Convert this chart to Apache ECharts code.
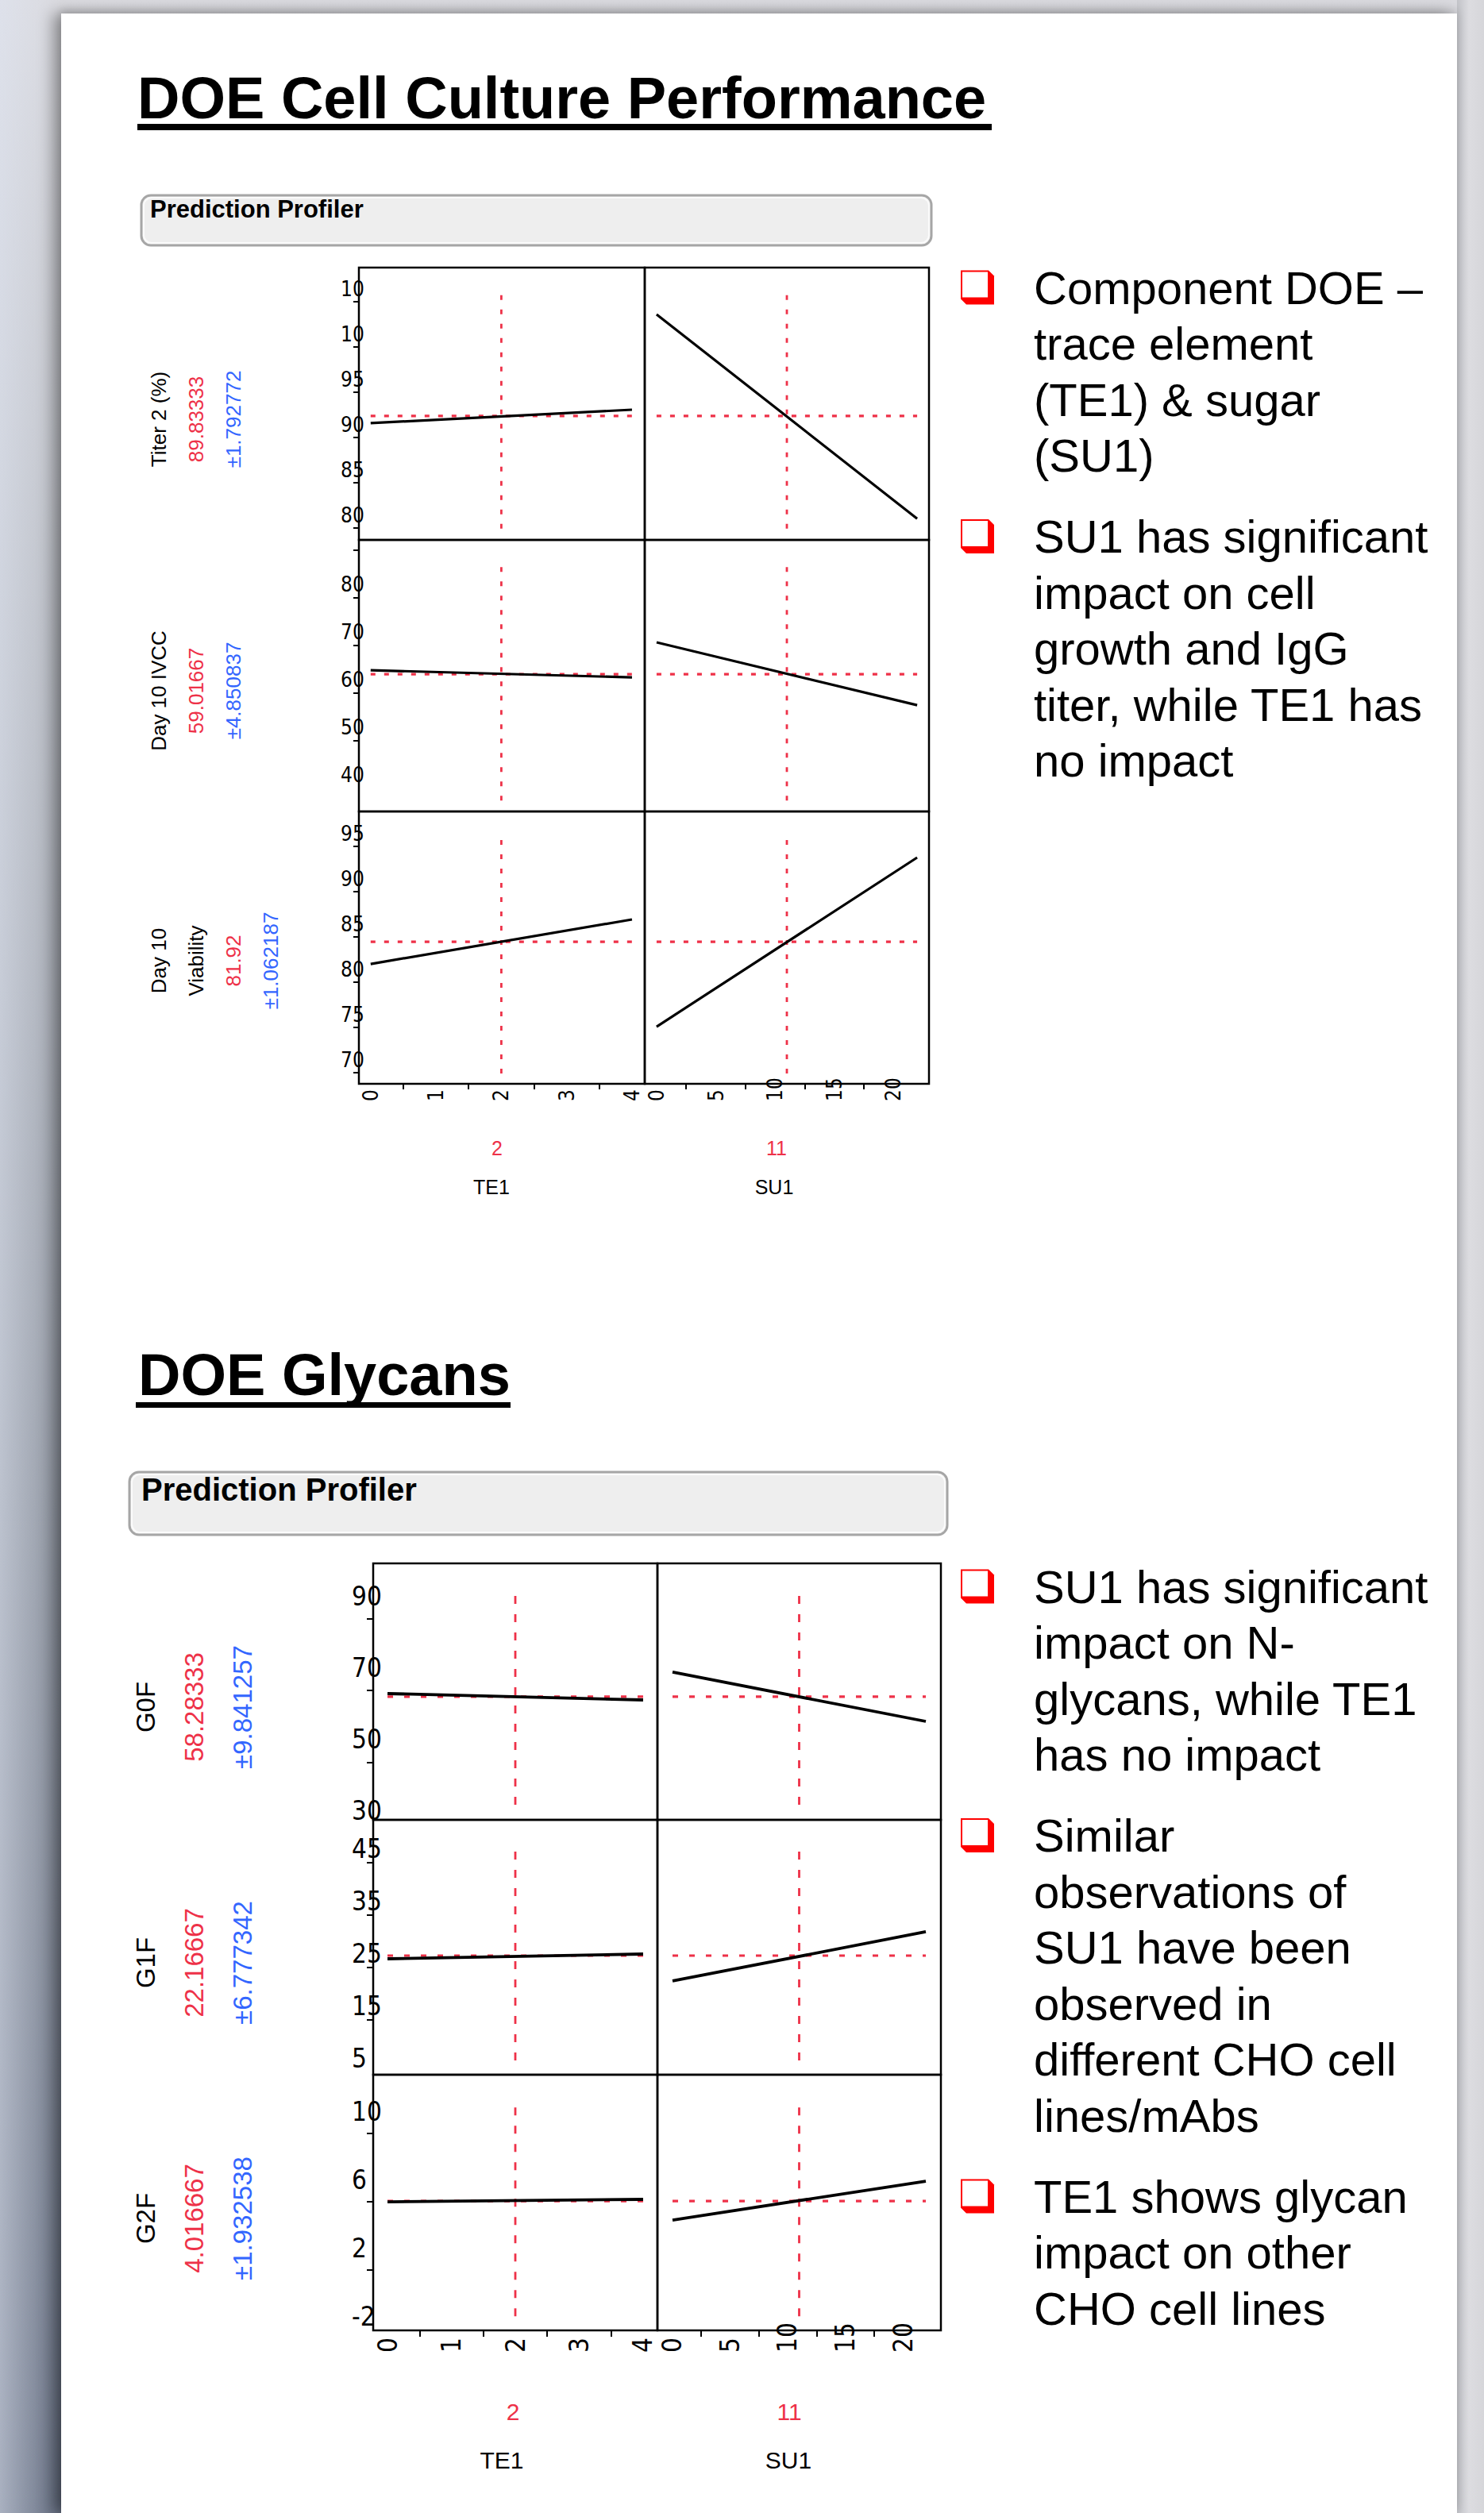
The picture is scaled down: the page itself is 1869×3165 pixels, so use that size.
<!DOCTYPE html>
<html>
<head>
<meta charset="utf-8">
<title>DOE Cell Culture Performance</title>
<script src="https://cdn.jsdelivr.net/npm/echarts@6.0.0/dist/echarts.min.js"></script>
<style>
  html, body { margin: 0; padding: 0; }
  body {
    width: 1869px; height: 3165px; position: relative; overflow: hidden;
    background: linear-gradient(to bottom, #dadadf 0%, #b9bcc3 25%, #8f95a0 60%, #646d80 100%);
  }
  #leftGlow {
    position: absolute; left: 0; top: 0; width: 77px; height: 3165px;
    background: linear-gradient(to right, rgba(225,231,244,0.55), rgba(225,231,244,0));
  }
  #rightStrip {
    position: absolute; left: 1835px; top: 0; width: 34px; height: 3165px;
    background: linear-gradient(to right, #c2c3c8, #dcdce0 45%, #d6d6da);
  }
  #card {
    position: absolute; left: 77px; top: 17px; width: 1758px; height: 3148px; background: #fff;
    box-shadow: -10px 0 18px rgba(0,0,0,0.35), 0 -4px 10px rgba(0,0,0,0.12);
  }
  #chart { position: absolute; left: 0; top: 0; width: 1869px; height: 3165px; }
</style>
</head>
<body>
<div id="leftGlow"></div>
<div id="rightStrip"></div>
<div id="card"></div>
<div id="chart"></div>
<script>
// factors
const factorNames = ['TE1', 'SU1'];
const factorLow = [0, 0];
const factorHigh = [4, 22];
const factorSetting = [2, 11];
const te1Ticks = [0, 1, 2, 3, 4];
const te1MinorTicks = [0.5, 1.5, 2.5, 3.5];
const su1Ticks = [0, 5, 10, 15, 20];
const su1MinorTicks = [2.5, 7.5, 12.5, 17.5];

// cell culture profiler
const cultureNames = [['Titer 2 (%)'], ['Day 10 IVCC'], ['Day 10', 'Viability']];
const culturePred = [89.83333, 59.01667, 81.92];
const cultureErr = [1.792772, 4.850837, 1.062187];
const cultureTE1 = [[89.05, 90.53], [59.85, 58.35], [79.46, 84.38]];
const cultureSU1 = [[101.06, 78.5], [65.69, 52.52], [72.53, 91.22]];
const cultureYTicks = [[80, 85, 90, 95, 100, 105], [40, 50, 60, 70, 80], [70, 75, 80, 85, 90, 95]];
const cultureYMinor = [[77.5, 82.5, 87.5, 92.5, 97.5, 102.5], [45, 55, 65, 75, 85], [67.5, 72.5, 77.5, 82.5, 87.5, 92.5]];
const cultureYRange = [[76.15, 106.23], [30.2, 87.2], [66.22, 96.31]];
const cultureRefSpan = [[77.4, 103.95], [32.5, 82.7], [67.36, 93.94]];

// glycan profiler
const glycanNames = [['G0F'], ['G1F'], ['G2F']];
const glycanPred = [58.28333, 22.16667, 4.016667];
const glycanErr = [9.841257, 6.777342, 1.932538];
const glycanTE1 = [[59.17, 57.39], [21.56, 22.47], [3.97, 4.11]];
const glycanSU1 = [[65.17, 51.39], [17.32, 26.72], [2.9, 5.18]];
const glycanYTicks = [[30, 50, 70, 90], [5, 15, 25, 35, 45], [-2, 2, 6, 10]];
const glycanYMinor = [[40, 60, 80], [10, 20, 30, 40], [0, 4, 8]];
const glycanYRange = [[23.84, 95.6], [-0.56, 48.07], [-3.56, 11.41]];
const glycanRefSpan = [[28.06, 88.28], [2.17, 43.38], [-2.73, 9.88]];

// slide text
const cultureNotes = [
  ['Component DOE \u2013', 'trace element', '(TE1) & sugar', '(SU1)'],
  ['SU1 has significant', 'impact on cell', 'growth and IgG', 'titer, while TE1 has', 'no impact']
];
const glycanNotes = [
  ['SU1 has significant', 'impact on N-', 'glycans, while TE1', 'has no impact'],
  ['Similar', 'observations of', 'SU1 have been', 'observed in', 'different CHO cell', 'lines/mAbs'],
  ['TE1 shows glycan', 'impact on other', 'CHO cell lines']
];

const RED = '#ee3148';
const BLUE = '#3366ff';
const SANS = '"Liberation Sans", Arial, Helvetica, sans-serif';
const NARROW = '"Liberation Sans Narrow", "Arial Narrow", "DejaVu Sans Condensed", "Liberation Sans", sans-serif';

const profilers = [
  {
    names: cultureNames, pred: culturePred, err: cultureErr, te1: cultureTE1, su1: cultureSU1,
    yTicks: cultureYTicks, yMinor: cultureYMinor, yRange: cultureYRange, refSpan: cultureRefSpan,
    colLeft: [452, 812], colWidth: [360, 358], rowTop: [337, 680, 1022], rowHeight: [343, 342, 343],
    xRange: [[-0.18, 4.195], [-1, 23]],
    axisFont: 26, yLabelMargin: 23, xLabelMargin: 22, xLabelShift: 14, tickLen: 7,
    labelFont: 26, labelX: 200, labelStep: 47, labelY: [528, 870, 1210],
    footFont: 25, settingX: [626, 978], settingY: 1446, nameX: [619, 975], nameY: 1495,
    hDash: [6, 11], vDash: [6, 12], lineWidth: 3.2,
    header: { x: 178, y: 246, w: 995, h: 63, font: 31, tx: 189, ty: 263 }
  },
  {
    names: glycanNames, pred: glycanPred, err: glycanErr, te1: glycanTE1, su1: glycanSU1,
    yTicks: glycanYTicks, yMinor: glycanYMinor, yRange: glycanYRange, refSpan: glycanRefSpan,
    colLeft: [470, 828], colWidth: [358, 357], rowTop: [1969, 2292, 2613], rowHeight: [323, 321, 322],
    xRange: [[-0.224, 4.224], [-1.31, 23.31]],
    axisFont: 33, yLabelMargin: 27, xLabelMargin: 28, xLabelShift: 14, tickLen: 8,
    labelFont: 33, labelX: 183, labelStep: 61, labelY: [2150, 2472, 2794],
    footFont: 30, settingX: [646, 994], settingY: 3037, nameX: [632, 993], nameY: 3098,
    hDash: [7, 14], vDash: [10, 13], lineWidth: 3.8,
    header: { x: 163, y: 1854, w: 1030, h: 79, font: 40, tx: 178, ty: 1876 }
  }
];

const grids = [], xAxes = [], yAxes = [], series = [], graphics = [];

function text(x, y, str, size, color, opts) {
  opts = opts || {};
  return {
    type: 'text', x: x, y: y, rotation: opts.rotation || 0, silent: true,
    style: {
      text: str, fill: color, fontSize: size, fontFamily: opts.family || SANS,
      fontWeight: opts.weight || 'normal',
      align: opts.align || 'center', textAlign: opts.align || 'center',
      verticalAlign: 'middle', textVerticalAlign: 'middle'
    }
  };
}

profilers.forEach(function (p) {
  for (let r = 0; r < 3; r++) {
    for (let c = 0; c < 2; c++) {
      const gi = grids.length;
      const isBottom = r === 2;
      const isLeft = c === 0;
      grids.push({
        left: p.colLeft[c], top: p.rowTop[r], width: p.colWidth[c], height: p.rowHeight[r],
        show: true, borderColor: '#000', borderWidth: 2.5, backgroundColor: 'rgba(0,0,0,0)',
        containLabel: false, outerBoundsMode: 'none'
      });
      xAxes.push({
        type: 'value', gridIndex: gi, position: 'bottom', min: p.xRange[c][0], max: p.xRange[c][1],
        splitLine: { show: false }, axisLine: { show: false, onZero: false },
        axisTick: { show: isBottom, customValues: c === 0 ? te1MinorTicks : su1MinorTicks,
          length: p.tickLen, lineStyle: { color: '#000', width: 2 } },
        axisLabel: { show: isBottom, customValues: c === 0 ? te1Ticks : su1Ticks,
          rotate: 90, align: 'left', verticalAlign: 'middle', margin: p.xLabelMargin,
          padding: [p.xLabelShift, 0, 0, 0],
          fontSize: p.axisFont, fontFamily: NARROW, color: '#000' }
      });
      yAxes.push({
        type: 'value', gridIndex: gi, position: 'left', min: p.yRange[r][0], max: p.yRange[r][1],
        splitLine: { show: false }, axisLine: { show: false, onZero: false },
        axisTick: { show: isLeft, customValues: p.yMinor[r], length: p.tickLen,
          lineStyle: { color: '#000', width: 2 } },
        axisLabel: { show: isLeft, customValues: p.yTicks[r], align: 'left', verticalAlign: 'top',
          margin: p.yLabelMargin, fontSize: p.axisFont, fontFamily: NARROW, color: '#000',
          formatter: function (v) { return String(v).slice(0, 2); } }
      });

      const lo = factorLow[c], hi = factorHigh[c], s = factorSetting[c];
      const prof = c === 0 ? p.te1[r] : p.su1[r];
      series.push({
        type: 'line', xAxisIndex: gi, yAxisIndex: gi, symbol: 'none', silent: true, z: 2,
        data: [[lo, p.pred[r]], [hi, p.pred[r]]],
        lineStyle: { color: RED, width: 3.2, type: p.hDash }
      });
      series.push({
        type: 'line', xAxisIndex: gi, yAxisIndex: gi, symbol: 'none', silent: true, z: 2,
        data: [[s, p.refSpan[r][0]], [s, p.refSpan[r][1]]],
        lineStyle: { color: RED, width: 2.8, type: p.vDash }
      });
      series.push({
        type: 'line', xAxisIndex: gi, yAxisIndex: gi, symbol: 'none', silent: true, z: 3,
        data: [[lo, prof[0]], [hi, prof[1]]],
        lineStyle: { color: '#000', width: p.lineWidth }
      });
    }

    // rotated response labels
    const lines = p.names[r].map(function (n) { return [n, '#000']; });
    lines.push([String(p.pred[r]), RED]);
    lines.push(['\u00b1' + p.err[r], BLUE]);
    lines.forEach(function (ln, i) {
      graphics.push(text(p.labelX + i * p.labelStep, p.labelY[r], ln[0], p.labelFont, ln[1],
        { rotation: Math.PI / 2 }));
    });
  }

  // factor settings and names under the profiler
  for (let c = 0; c < 2; c++) {
    graphics.push(text(p.settingX[c], p.settingY, String(factorSetting[c]), p.footFont, RED));
    graphics.push(text(p.nameX[c], p.nameY, factorNames[c], p.footFont, '#000'));
  }

  // header bar
  const h = p.header;
  graphics.push({ type: 'rect', silent: true, shape: { x: h.x, y: h.y, width: h.w, height: h.h, r: 12 },
    style: { fill: '#eeeeee', stroke: '#a6a6a6', lineWidth: 3 } });
  graphics.push({ type: 'rect', silent: true, shape: { x: h.x + 3, y: h.y + 3, width: h.w - 6, height: h.h - 6, r: 10 },
    style: { fill: 'none', stroke: '#fbfbfb', lineWidth: 2 } });
  graphics.push(text(h.tx, h.ty, 'Prediction Profiler', h.font, '#000', { align: 'left', weight: 'bold' }));
});

// titles
graphics.push(text(173, 123, 'DOE Cell Culture Performance', 74, '#000', { align: 'left', weight: 'bold' }));
graphics.push({ type: 'rect', silent: true, shape: { x: 173, y: 156, width: 1076, height: 8 }, style: { fill: '#000' } });
graphics.push(text(174, 1731, 'DOE Glycans', 74, '#000', { align: 'left', weight: 'bold' }));
graphics.push({ type: 'rect', silent: true, shape: { x: 171, y: 1766, width: 472, height: 7 }, style: { fill: '#000' } });

// bullet lists
function bulletList(groups, startY) {
  let y = startY;
  groups.forEach(function (g) {
    graphics.push({
      type: 'group', x: 1210, y: y - 21.5, silent: true,
      children: [
        { type: 'polygon', shape: { points: [[0, 0], [35, 0], [42, 7], [42, 43], [7, 43], [0, 36]] },
          style: { fill: '#ff0000' } },
        { type: 'rect', shape: { x: 2, y: 2, width: 32, height: 32 }, style: { fill: '#fff' } }
      ]
    });
    g.forEach(function (line) {
      graphics.push(text(1302, y, line, 58, '#000', { align: 'left' }));
      y += 70.6;
    });
    y += 31;
  });
}
bulletList(cultureNotes, 362);
bulletList(glycanNotes, 1998);

const chart = echarts.init(document.getElementById('chart'), null, { renderer: 'svg' });
chart.setOption({
  animation: false,
  backgroundColor: 'transparent',
  grid: grids,
  xAxis: xAxes,
  yAxis: yAxes,
  series: series,
  graphic: { elements: graphics }
});
</script>
</body>
</html>
